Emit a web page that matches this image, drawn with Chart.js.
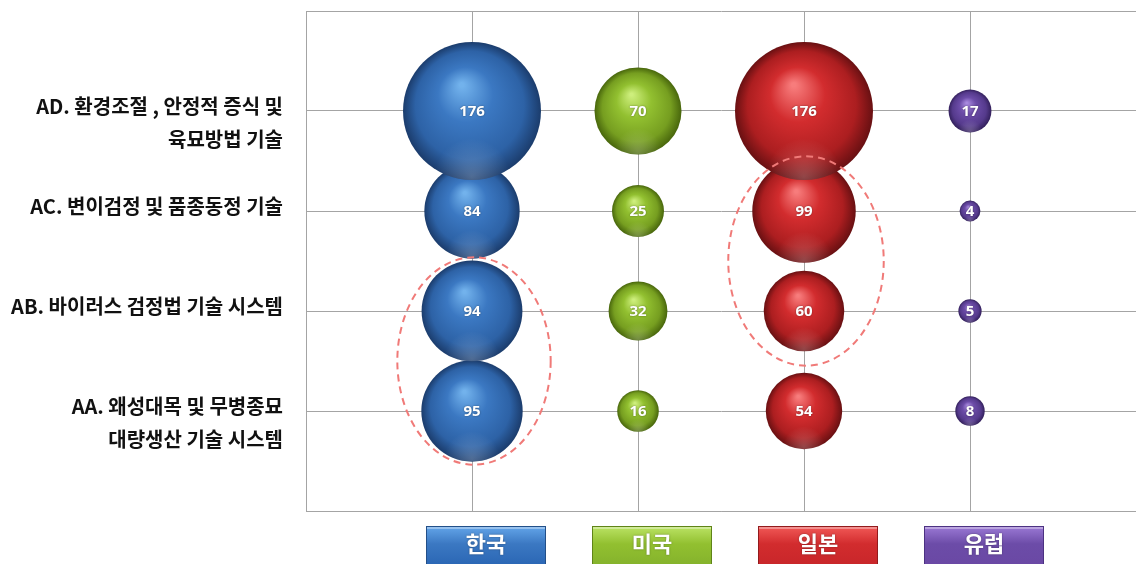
<!DOCTYPE html>
<html>
<head>
<meta charset="utf-8">
<script src="https://cdn.jsdelivr.net/npm/chart.js@4/dist/chart.umd.min.js"></script>
<style>
  html, body { margin: 0; padding: 0; background: #fff; }
  #wrap { width: 1136px; height: 564px; position: relative; }
</style>
</head>
<body>
<div id="wrap"><canvas id="chart"></canvas></div>
<script>
// categories
const regions = ['한국', '미국', '일본', '유럽'];
const techLabels = [
    ['AA. 왜성대목 및 무병종묘', '대량생산 기술 시스템'],
    'AB. 바이러스 검정법 기술 시스템',
    'AC. 변이검정 및 품종동정 기술',
    ['AD. 환경조절 , 안정적 증식 및', '육묘방법 기술']
];

// patent counts per technology (AA, AB, AC, AD)
const korea = [95, 94, 84, 176];
const usa = [16, 32, 25, 70];
const japan = [54, 60, 99, 176];
const europe = [8, 5, 4, 17];

// dashed groups: region index and the rows they wrap
const groups = [
    { region: 0, rows: [0, 1] },
    { region: 2, rows: [1, 2] }
];

const palettes = [
    { light: '#72b2ec', base: '#3b78c2', mid: '#2d62a6', dark: '#1b3c6c', top: '#64a6ea', bottom: '#2a66b4', edge: '#234f88' },
    { light: '#cdee7c', base: '#92c030', mid: '#769e20', dark: '#48660c', top: '#bce466', bottom: '#84b22c', edge: '#5f8418' },
    { light: '#f77c7c', base: '#d22c2e', mid: '#ac1e20', dark: '#681012', top: '#f25a58', bottom: '#c8262a', edge: '#921a1c' },
    { light: '#a88ade', base: '#6c4ca8', mid: '#553a8c', dark: '#33205c', top: '#9c7ad6', bottom: '#6a48a4', edge: '#4c3282' }
];

const RADIUS_SCALE = 5.2;
const seriesValues = [korea, usa, japan, europe];

function makePoints(values, s) {
    return values.map((v, i) => ({ x: s + 1, y: i + 1, v: v, r: RADIUS_SCALE * Math.sqrt(v) }));
}

function sphereFill(pal) {
    return function(ctx) {
        const chart = ctx.chart;
        if (ctx.type !== 'data' || !chart.chartArea) return pal.base;
        const raw = ctx.raw;
        const x = chart.scales.x.getPixelForValue(raw.x);
        const y = chart.scales.y.getPixelForValue(raw.y);
        const r = raw.r;
        const g = chart.ctx.createRadialGradient(x - r * 0.15, y - r * 0.38, r * 0.03, x, y, r);
        g.addColorStop(0, pal.light);
        g.addColorStop(0.38, pal.base);
        g.addColorStop(0.78, pal.mid);
        g.addColorStop(1, pal.dark);
        return g;
    };
}

const datasets = seriesValues.map((vals, s) => ({
    label: regions[s],
    data: makePoints(vals, s),
    backgroundColor: sphereFill(palettes[s]),
    borderWidth: 0,
    hoverBorderWidth: 0
}));

// soft bottom reflection + value text on every bubble
const bubbleText = {
    id: 'bubbleText',
    afterDatasetsDraw(chart) {
        const c = chart.ctx;
        chart.data.datasets.forEach((ds, di) => {
            const meta = chart.getDatasetMeta(di);
            meta.data.forEach((el, i) => {
                const r = ds.data[i].r;
                c.save();
                c.beginPath();
                c.arc(el.x, el.y, r, 0, Math.PI * 2);
                c.clip();
                const g = c.createRadialGradient(el.x, el.y + r * 0.95, 0, el.x, el.y + r * 0.95, r * 0.55);
                g.addColorStop(0, 'rgba(255,255,255,0.22)');
                g.addColorStop(1, 'rgba(255,255,255,0)');
                c.fillStyle = g;
                c.fillRect(el.x - r, el.y, r * 2, r);
                c.restore();

                c.save();
                c.font = 'bold 15px "Noto Sans", "DejaVu Sans", sans-serif';
                c.textAlign = 'center';
                c.textBaseline = 'middle';
                c.shadowColor = 'rgba(0,0,0,0.45)';
                c.shadowBlur = 2;
                c.fillStyle = '#ffffff';
                c.fillText(String(ds.data[i].v), el.x, el.y + 1);
                c.restore();
            });
        });

        // dashed rings around highlighted groups
        const xs = chart.scales.x, ys = chart.scales.y;
        groups.forEach(g => {
            const vals = seriesValues[g.region];
            const maxR = Math.max(...g.rows.map(r => RADIUS_SCALE * Math.sqrt(vals[r])));
            const y1 = ys.getPixelForValue(g.rows[0] + 1);
            const y2 = ys.getPixelForValue(g.rows[1] + 1);
            const cx = xs.getPixelForValue(g.region + 1) + 2;
            c.save();
            c.strokeStyle = '#f07a78';
            c.lineWidth = 2;
            c.setLineDash([7, 5]);
            c.beginPath();
            c.ellipse(cx, (y1 + y2) / 2, maxR + 26, Math.abs(y1 - y2) / 2 + maxR + 3, 0, 0, Math.PI * 2);
            c.stroke();
            c.restore();
        });
    }
};

// coloured region boxes under the plot
const regionBoxes = {
    id: 'regionBoxes',
    afterDraw(chart) {
        const c = chart.ctx;
        const area = chart.chartArea;
        const w = 120, h = 40;
        regions.forEach((name, i) => {
            const pal = palettes[i];
            const cx = chart.scales.x.getPixelForValue(i + 1) + 14;
            const x0 = cx - w / 2, y0 = area.bottom + 15;
            c.save();
            const g = c.createLinearGradient(0, y0, 0, y0 + h);
            g.addColorStop(0, pal.top);
            g.addColorStop(0.45, pal.base);
            g.addColorStop(1, pal.bottom);
            c.fillStyle = g;
            c.fillRect(x0, y0, w, h);
            c.fillStyle = 'rgba(255,255,255,0.35)';
            c.fillRect(x0 + 1, y0 + 1, w - 2, 2);
            c.strokeStyle = pal.edge;
            c.lineWidth = 1;
            c.strokeRect(x0 + 0.5, y0 + 0.5, w - 1, h - 1);
            c.font = 'bold 22px "Noto Sans CJK KR", sans-serif';
            c.textAlign = 'center';
            c.textBaseline = 'middle';
            c.shadowColor = 'rgba(0,0,0,0.4)';
            c.shadowBlur = 2;
            c.fillStyle = '#ffffff';
            c.fillText(name, cx, y0 + 18);
            c.restore();
        });
    }
};

new Chart(document.getElementById('chart'), {
    type: 'bubble',
    data: { datasets: datasets },
    options: {
        responsive: true,
        maintainAspectRatio: false,
        animation: false,
        events: [],
        layout: { autoPadding: false, padding: { top: 11, right: 0, bottom: 53, left: 0 } },
        plugins: {
            legend: { display: false },
            tooltip: { enabled: false }
        },
        scales: {
            x: {
                type: 'linear',
                min: 0,
                max: 5,
                ticks: { display: false, stepSize: 1 },
                grid: { color: '#a4a4a4', drawTicks: false },
                border: { color: '#a4a4a4' }
            },
            y: {
                type: 'linear',
                min: 0,
                max: 5,
                afterFit(scale) {
                    scale.width = 306;
                    scale.paddingTop = 0;
                    scale.paddingBottom = 0;
                },
                ticks: {
                    stepSize: 1,
                    autoSkip: false,
                    padding: 23,
                    labelOffset: -5,
                    color: '#111',
                    font: { family: '"Noto Sans CJK KR", sans-serif', size: 20, weight: 'bold', lineHeight: 1.65 },
                    // leading blank line keeps the first text line on the grid line
                    callback: v => {
                        if (v < 1 || v > 4) return '';
                        const lbl = techLabels[v - 1];
                        return Array.isArray(lbl) ? [''].concat(lbl) : lbl;
                    }
                },
                grid: { color: '#a4a4a4', drawTicks: false },
                border: { color: '#a4a4a4' }
            }
        }
    },
    plugins: [bubbleText, regionBoxes]
});
</script>
</body>
</html>
